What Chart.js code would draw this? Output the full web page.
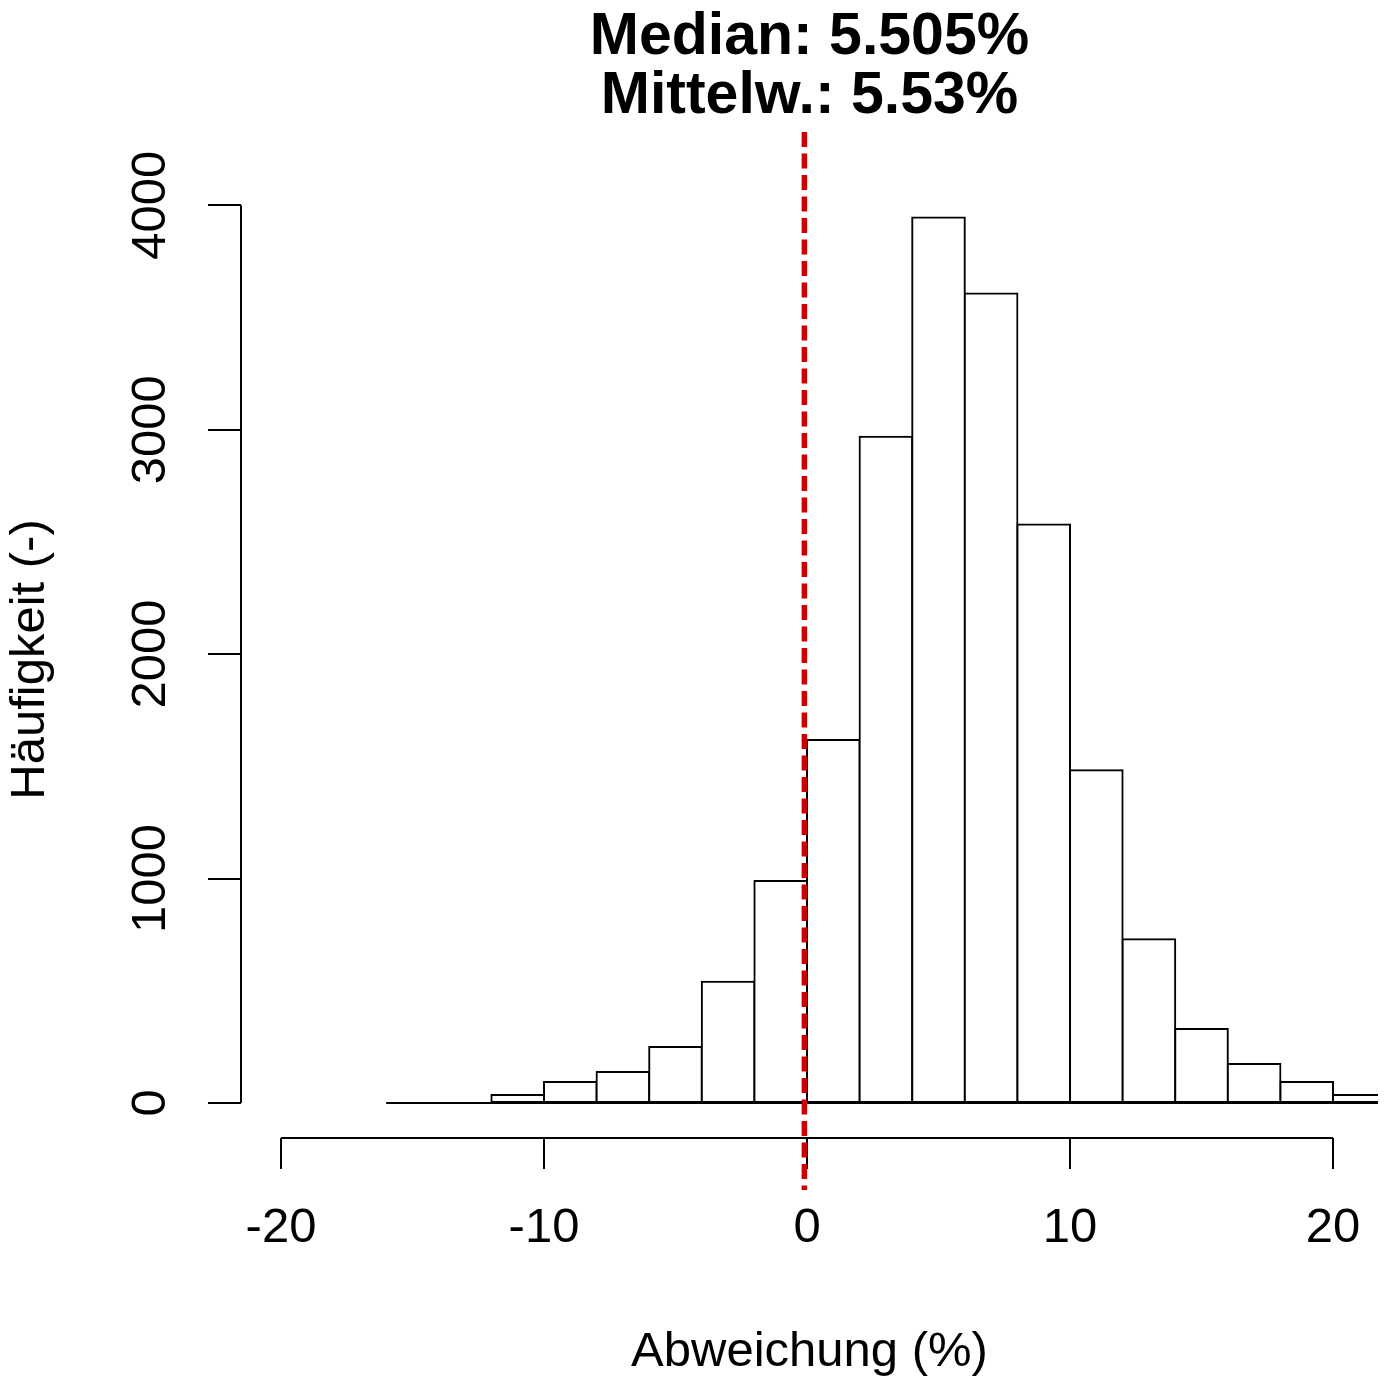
<!DOCTYPE html>
<html lang="de">
<head>
<meta charset="utf-8">
<title>Abweichung (%)</title>
<script src="https://cdn.jsdelivr.net/npm/chart.js@4/dist/chart.umd.min.js"></script>
<style>
  html, body { margin: 0; padding: 0; background: #fff; }
  #wrap { width: 1384px; height: 1377px; }
</style>
</head>
<body>
<div id="wrap"><canvas id="histChart" width="1384" height="1377"></canvas></div>
<script>
// Datos del histograma
const binEdges = [-16, -14, -12, -10, -8, -6, -4, -2, 0, 2, 4, 6, 8, 10, 12, 14, 16, 18, 20, 22];
const counts   = [0, 0, 36, 94, 138, 249, 540, 989, 1617, 2968, 3945, 3607, 2578, 1483, 730, 330, 174, 94, 36];
const xTicks = [-20, -10, 0, 10, 20];
const yTicks = [0, 1000, 2000, 3000, 4000];
const titleLines = ["Median: 5.505%", "Mittelw.: 5.53%"];
const xTitle = "Abweichung (%)";
const yTitle = "Häufigkeit (-)";
// Línea roja vertical (posición en x y extensión en unidades de y)
const refLineX = -0.1;
const refLineSpan = [4326, -388];

const FONT = '"Liberation Sans", Arial, sans-serif';

// Cada barra va en el centro de su intervalo
const barData = counts.map((c, i) => ({ x: (binEdges[i] + binEdges[i + 1]) / 2, y: c }));

// Ejes al estilo R: líneas solo entre el primer y el último tick
const rAxes = {
  id: "rAxes",
  afterDatasetsDraw(chart) {
    const { ctx, chartArea: a, scales: { x, y } } = chart;
    const y0 = y.getPixelForValue(0);
    ctx.save();
    ctx.beginPath();
    ctx.rect(a.left, a.top, a.right - a.left, a.bottom - a.top);
    ctx.clip();
    // base de las barras (incluye intervalos vacíos)
    ctx.strokeStyle = "#000";
    ctx.lineWidth = 2;
    ctx.beginPath();
    ctx.moveTo(x.getPixelForValue(binEdges[0]), y0);
    ctx.lineTo(x.getPixelForValue(binEdges[binEdges.length - 1]), y0);
    ctx.stroke();
    ctx.restore();
  },
  afterDraw(chart) {
    const { ctx, scales: { x, y } } = chart;
    ctx.save();
    ctx.strokeStyle = "#000";
    ctx.lineWidth = 2;
    ctx.beginPath();
    ctx.moveTo(x.getPixelForValue(xTicks[0]), x.top);
    ctx.lineTo(x.getPixelForValue(xTicks[xTicks.length - 1]), x.top);
    ctx.moveTo(y.right, y.getPixelForValue(yTicks[0]));
    ctx.lineTo(y.right, y.getPixelForValue(yTicks[yTicks.length - 1]));
    ctx.stroke();

    // etiquetas del eje y giradas 90°
    ctx.fillStyle = "#000";
    ctx.font = "49px " + FONT;
    ctx.textAlign = "center";
    ctx.textBaseline = "middle";
    yTicks.forEach((v) => {
      ctx.save();
      ctx.translate(y.right - 90, y.getPixelForValue(v));
      ctx.rotate(-Math.PI / 2);
      ctx.fillText(String(v), 0, 0);
      ctx.restore();
    });

    // línea roja discontinua
    ctx.strokeStyle = "#CC0000";
    ctx.lineWidth = 5.5;
    ctx.setLineDash([15, 6.5]);
    const px = x.getPixelForValue(refLineX);
    ctx.beginPath();
    ctx.moveTo(px, y.getPixelForValue(refLineSpan[0]));
    ctx.lineTo(px, y.getPixelForValue(refLineSpan[1]));
    ctx.stroke();
    ctx.restore();
  },
};

new Chart(document.getElementById("histChart"), {
  type: "bar",
  data: {
    datasets: [
      {
        data: barData,
        backgroundColor: "#fff",
        borderColor: "#000",
        borderWidth: 2,
        borderSkipped: false,
        inflateAmount: 1,
        barPercentage: 1,
        categoryPercentage: 1,
        clip: 0,
      },
    ],
  },
  options: {
    responsive: false,
    animation: false,
    devicePixelRatio: 1,
    layout: { padding: { left: 0, right: 6, top: 0, bottom: 0 } },
    plugins: {
      legend: { display: false },
      tooltip: { enabled: false },
      title: {
        display: true,
        text: titleLines,
        fullSize: false,
        color: "#000",
        font: { family: FONT, size: 59, weight: "bold", lineHeight: 1 },
        padding: { top: 8, bottom: 55 },
      },
    },
    scales: {
      x: {
        type: "linear",
        offset: false,
        min: -21.52,
        max: 21.71,
        afterBuildTicks: (s) => { s.ticks = xTicks.map((v) => ({ value: v })); },
        afterFit: (s) => {
          s.height = 239;
          // sin relleno extra por las etiquetas de los extremos
          s.paddingLeft = 0;
          s.paddingRight = 0;
        },
        grid: { display: true, offset: false, drawOnChartArea: false, drawTicks: true, tickLength: 31, color: "#000", lineWidth: 2 },
        border: { display: false },
        ticks: {
          color: "#000",
          font: { family: FONT, size: 49 },
          padding: 30,
          maxRotation: 0,
          autoSkip: false,
          callback: (v) => String(v),
        },
        title: {
          display: true,
          text: xTitle,
          color: "#000",
          font: { family: FONT, size: 49, lineHeight: 1 },
          padding: { top: 0, bottom: 0 },
        },
      },
      y: {
        min: -156,
        max: 4108,
        afterBuildTicks: (s) => { s.ticks = yTicks.map((v) => ({ value: v })); },
        afterFit: (s) => { s.width = 241; },
        grid: { display: true, drawOnChartArea: false, drawTicks: true, tickLength: 33, color: "#000", lineWidth: 2 },
        border: { display: false },
        ticks: { display: false },
        title: {
          display: true,
          text: yTitle,
          color: "#000",
          font: { family: FONT, size: 49, lineHeight: 1 },
          padding: { top: 5.5, bottom: 0 },
        },
      },
    },
  },
  plugins: [rAxes],
});
</script>
</body>
</html>
